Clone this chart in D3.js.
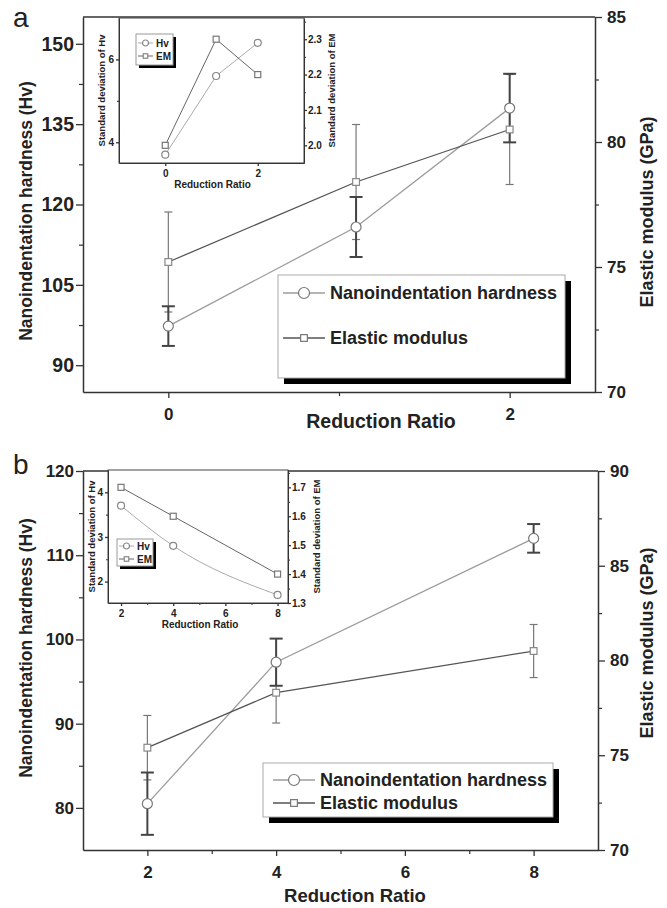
<!DOCTYPE html>
<html>
<head>
<meta charset="utf-8">
<script src="https://cdn.jsdelivr.net/npm/d3@7"></script>
<style>
  body { margin: 0; background: #fff; }
  text { font-family: "Liberation Sans", Arial, sans-serif; font-weight: bold; fill: #222; }
</style>
</head>
<body>
<svg id="chart" width="667" height="908"></svg>
<script>
// panel a
const ratioA = [0, 1.1, 2]
const hvA = [97.3, 115.8, 138.0]
const hvSdA = [3.7, 5.6, 6.4]
const emA = [75.2, 78.4, 80.5]
const emSdA = [2.0, 2.3, 2.2]
const xTicksA = [0, 2]
const yTicksA = [90, 105, 120, 135, 150]
const y2TicksA = [70, 75, 80, 85]
const insetXTicksA = [0, 2]
const insetYTicksA = [4, 6]
const insetY2TicksA = [2.0, 2.1, 2.2, 2.3]

// panel b
const ratioB = [2, 4, 8]
const hvB = [80.5, 97.3, 112.0]
const hvSdB = [3.7, 2.8, 1.7]
const emB = [75.4, 78.3, 80.5]
const emSdB = [1.7, 1.6, 1.4]
const xTicksB = [2, 4, 6, 8]
const yTicksB = [80, 90, 100, 110, 120]
const y2TicksB = [70, 75, 80, 85, 90]
const insetXTicksB = [2, 4, 6, 8]
const insetYTicksB = [2, 3, 4]
const insetY2TicksB = [1.3, 1.4, 1.5, 1.6, 1.7]

const legendLabels = ['Nanoindentation hardness', 'Elastic modulus']
const insetLegendLabels = ['Hv', 'EM']

const HV_LINE = '#9c9c9c'
const EM_LINE = '#555'
const fmtInt = d3.format('d')
const svg = d3.select('#chart')

function styleAxis (g, size) {
  g.select('.domain').attr('stroke', '#333').attr('stroke-width', 1.5)
  g.selectAll('.tick line').attr('stroke', '#333').attr('stroke-width', 1.3)
  g.selectAll('.tick text').style('font-size', size + 'px').attr('fill', '#222')
}

function minorTicks (g, axis, color) {
  g.call(axis.tickFormat('').tickSizeOuter(0))
    .call(s => { s.select('.domain').remove(); s.selectAll('line').attr('stroke', color).attr('stroke-width', 1.2) })
}

function marker (sel, kind, r, stroke) {
  if (kind === 'circle') {
    sel.append('circle').attr('r', r).attr('fill', '#fff').attr('stroke', stroke).attr('stroke-width', 1.2)
  } else {
    sel.append('rect').attr('x', -r * 0.75).attr('y', -r * 0.75).attr('width', r * 1.5).attr('height', r * 1.5)
      .attr('fill', '#fff').attr('stroke', stroke).attr('stroke-width', 1.2)
  }
}

function inset (c) {
  const g = svg.append('g')
  const x = d3.scaleLinear().domain(c.xDomain).range([c.left, c.right])
  const y = d3.scaleLinear().domain(c.yDomain).range([c.bottom, c.top])
  const y2 = d3.scaleLinear().domain(c.y2Domain).range([c.bottom, c.top])

  g.append('rect').attr('x', c.left).attr('y', c.top).attr('width', c.right - c.left).attr('height', c.bottom - c.top)
    .attr('fill', '#fff').attr('stroke', '#444').attr('stroke-width', 1)

  const ax = g.append('g').attr('transform', `translate(0,${c.bottom})`)
    .call(d3.axisBottom(x).tickValues(c.xTicks).tickFormat(fmtInt).tickSize(3).tickPadding(4).tickSizeOuter(0))
  styleAxis(ax, 10)
  if (c.xMinor) {
    minorTicks(g.append('g').attr('transform', `translate(0,${c.bottom})`), d3.axisBottom(x).tickValues(c.xMinor).tickSize(2), '#444')
  }
  const al = g.append('g').attr('transform', `translate(${c.left},0)`)
    .call(d3.axisLeft(y).tickValues(c.yTicks).tickFormat(fmtInt).tickSize(3).tickPadding(2).tickSizeOuter(0))
  styleAxis(al, 10)
  minorTicks(g.append('g').attr('transform', `translate(${c.left},0)`), d3.axisLeft(y).tickValues(c.yMinor).tickSize(2), '#444')
  const ar = g.append('g').attr('transform', `translate(${c.right},0)`)
    .call(d3.axisRight(y2).tickValues(c.y2Ticks).tickSize(3).tickPadding(1).tickFormat(d3.format('.1f')).tickSizeOuter(0))
  styleAxis(ar, 10)
  minorTicks(g.append('g').attr('transform', `translate(${c.right},0)`), d3.axisRight(y2).tickValues(c.y2Minor).tickSize(2), '#444')
  g.selectAll('.domain').attr('stroke-width', 1)

  const hvLine = d3.line().x((d, i) => x(c.ratio[i])).y(d => y(d)).curve(c.curve || d3.curveLinear)
  const emLine = d3.line().x((d, i) => x(c.ratio[i])).y(d => y2(d))
  g.append('path').attr('d', hvLine(c.hv)).attr('fill', 'none').attr('stroke', '#aaa').attr('stroke-width', 1)
  g.append('path').attr('d', emLine(c.em)).attr('fill', 'none').attr('stroke', '#666').attr('stroke-width', 1)
  c.hv.forEach((d, i) => marker(g.append('g').attr('transform', `translate(${x(c.ratio[i])},${y(d)})`), 'circle', 3.5, '#888'))
  c.em.forEach((d, i) => marker(g.append('g').attr('transform', `translate(${x(c.ratio[i])},${y2(d)})`), 'square', 4, '#777'))

  g.append('text').attr('x', (c.left + c.right) / 2 + c.xTitleDx).attr('y', c.bottom + 25)
    .attr('text-anchor', 'middle').style('font-size', '10px').text('Reduction Ratio')
  g.append('text').attr('transform', `translate(${c.leftTitleX},${(c.top + c.bottom) / 2}) rotate(-90)`)
    .attr('text-anchor', 'middle').attr('dominant-baseline', 'central').style('font-size', '9.5px').text('Standard deviation of Hv')
  g.append('text').attr('transform', `translate(${c.rightTitleX},${(c.top + c.bottom) / 2}) rotate(-90)`)
    .attr('text-anchor', 'middle').attr('dominant-baseline', 'central').style('font-size', '9.5px').text('Standard deviation of EM')

  // small legend
  const L = c.legend
  g.append('rect').attr('x', L.x + 3).attr('y', L.y + 3).attr('width', L.w).attr('height', L.h).attr('fill', '#000')
  g.append('rect').attr('x', L.x).attr('y', L.y).attr('width', L.w).attr('height', L.h).attr('fill', '#fff').attr('stroke', '#999')
  insetLegendLabels.forEach((lab, i) => {
    const yy = L.y + L.rows[i]
    g.append('line').attr('x1', L.x + 2).attr('x2', L.x + 17).attr('y1', yy).attr('y2', yy)
      .attr('stroke', i ? '#666' : '#aaa')
    marker(g.append('g').attr('transform', `translate(${L.x + 9.5},${yy})`), i ? 'square' : 'circle', 3, '#888')
    g.append('text').attr('x', L.x + 20).attr('y', yy).attr('dominant-baseline', 'central')
      .style('font-size', '10px').text(lab)
  })
}

function panel (c) {
  const g = svg.append('g')
  const x = d3.scaleLinear().domain(c.xDomain).range([c.left, c.right])
  const y = d3.scaleLinear().domain(c.yDomain).range([c.bottom, c.top])
  const y2 = d3.scaleLinear().domain(c.y2Domain).range([c.bottom, c.top])

  // top frame line
  g.append('line').attr('x1', c.left).attr('x2', c.right).attr('y1', c.top).attr('y2', c.top)
    .attr('stroke', '#333').attr('stroke-width', 1.5)

  const ax = g.append('g').attr('transform', `translate(0,${c.bottom})`)
    .call(d3.axisBottom(x).tickValues(c.xTicks).tickFormat(fmtInt).tickSize(6).tickPadding(10).tickSizeOuter(0))
  styleAxis(ax, 17)
  minorTicks(g.append('g').attr('transform', `translate(0,${c.bottom})`), d3.axisBottom(x).tickValues(c.xMinor).tickSize(4), '#333')

  const al = g.append('g').attr('transform', `translate(${c.left},0)`)
    .call(d3.axisLeft(y).tickValues(c.yTicks).tickFormat(fmtInt).tickSize(7).tickPadding(2).tickSizeOuter(0))
  styleAxis(al, c.leftFont)
  minorTicks(g.append('g').attr('transform', `translate(${c.left},0)`), d3.axisLeft(y).tickValues(c.yMinor).tickSize(4), '#333')

  const ar = g.append('g').attr('transform', `translate(${c.right},0)`)
    .call(d3.axisRight(y2).tickValues(c.y2Ticks).tickFormat(fmtInt).tickSize(7).tickPadding(5).tickSizeOuter(0))
  styleAxis(ar, 17)
  minorTicks(g.append('g').attr('transform', `translate(${c.right},0)`), d3.axisRight(y2).tickValues(c.y2Minor).tickSize(4), '#333')

  // lines
  const hvLine = d3.line().x((d, i) => x(c.ratio[i])).y(d => y(d))
  const emLine = d3.line().x((d, i) => x(c.ratio[i])).y(d => y2(d))
  g.append('path').attr('d', hvLine(c.hv)).attr('fill', 'none').attr('stroke', HV_LINE).attr('stroke-width', 1.3)
  g.append('path').attr('d', emLine(c.em)).attr('fill', 'none').attr('stroke', EM_LINE).attr('stroke-width', 1.3)

  // error bars
  function errBar (cx, yTop, yBot, cap, color, w) {
    g.append('line').attr('x1', cx).attr('x2', cx).attr('y1', yTop).attr('y2', yBot).attr('stroke', color).attr('stroke-width', w)
    g.append('line').attr('x1', cx - cap).attr('x2', cx + cap).attr('y1', yTop).attr('y2', yTop).attr('stroke', color).attr('stroke-width', w)
    g.append('line').attr('x1', cx - cap).attr('x2', cx + cap).attr('y1', yBot).attr('y2', yBot).attr('stroke', color).attr('stroke-width', w)
  }
  c.em.forEach((d, i) => errBar(x(c.ratio[i]), y2(d + c.emSd[i]), y2(d - c.emSd[i]), 4, '#777', 1.2))
  c.hv.forEach((d, i) => errBar(x(c.ratio[i]), y(d + c.hvSd[i]), y(d - c.hvSd[i]), 6.5, '#444', 2))

  c.hv.forEach((d, i) => marker(g.append('g').attr('transform', `translate(${x(c.ratio[i])},${y(d)})`), 'circle', 5, '#777'))
  c.em.forEach((d, i) => marker(g.append('g').attr('transform', `translate(${x(c.ratio[i])},${y2(d)})`), 'square', 4.5, '#888'))

  // titles
  g.append('text').attr('x', c.panelX).attr('y', c.panelY).style('font-size', '28px').style('font-weight', 'normal').text(c.name)
  g.append('text').attr('x', c.xTitleX).attr('y', c.xTitleY).attr('text-anchor', 'middle')
    .style('font-size', c.xTitleFont + 'px').text('Reduction Ratio')
  g.append('text').attr('transform', `translate(26,${c.yTitleY}) rotate(-90)`).attr('text-anchor', 'middle')
    .attr('dominant-baseline', 'central').style('font-size', '17.5px').text('Nanoindentation hardness (Hv)')
  g.append('text').attr('transform', `translate(647,${c.y2TitleY}) rotate(-90)`).attr('text-anchor', 'middle')
    .attr('dominant-baseline', 'central').style('font-size', '18px').text('Elastic modulus (GPa)')

  // legend
  const L = c.legend
  g.append('rect').attr('x', L.x + 6).attr('y', L.y + 6).attr('width', L.w).attr('height', L.h).attr('fill', '#000')
  g.append('rect').attr('x', L.x).attr('y', L.y).attr('width', L.w).attr('height', L.h).attr('fill', '#fff').attr('stroke', '#aaa')
  legendLabels.forEach((lab, i) => {
    const yy = L.y + L.rows[i]
    g.append('line').attr('x1', L.x + L.sx).attr('x2', L.x + L.sx + 42).attr('y1', yy).attr('y2', yy)
      .attr('stroke', i ? EM_LINE : HV_LINE).attr('stroke-width', 1.3)
    marker(g.append('g').attr('transform', `translate(${L.x + L.sx + 21},${yy})`), i ? 'square' : 'circle', i ? 4.5 : 5.5, '#777')
    g.append('text').attr('x', L.x + L.sx + 47).attr('y', yy).attr('dominant-baseline', 'central')
      .style('font-size', '18px').text(lab)
  })

  inset(c.inset)
}

panel({
  name: 'a', panelX: 13, panelY: 27,
  left: 83, right: 595, top: 17, bottom: 392,
  xDomain: [-0.5, 2.5], yDomain: [85, 155], y2Domain: [70, 85],
  xTicks: xTicksA, xMinor: [1], yTicks: yTicksA, yMinor: [97.5, 112.5, 127.5, 142.5],
  y2Ticks: y2TicksA, y2Minor: [72.5, 77.5, 82.5], leftFont: 19.5,
  ratio: ratioA, hv: hvA, hvSd: hvSdA, em: emA, emSd: emSdA,
  xTitleX: 381, xTitleY: 428, xTitleFont: 19.5, yTitleY: 211, y2TitleY: 212,
  legend: { x: 278, y: 275, w: 287, h: 103, sx: 5, rows: [18, 63] },
  inset: {
    left: 119, right: 304, top: 18, bottom: 163,
    xDomain: [-1, 3], yDomain: [3.5, 7.0], y2Domain: [1.95, 2.36],
    xTicks: insetXTicksA, yTicks: insetYTicksA, yMinor: [5],
    y2Ticks: insetY2TicksA, y2Minor: [2.05, 2.15, 2.25, 2.35],
    ratio: ratioA, hv: hvSdA, em: emSdA, xTitleDx: 1,
    leftTitleX: 101, rightTitleX: 331,
    legend: { x: 136, y: 34, w: 37, h: 31, rows: [9, 22] }
  }
})

panel({
  name: 'b', panelX: 13, panelY: 474,
  left: 83, right: 598, top: 471, bottom: 850,
  xDomain: [1, 9], yDomain: [75, 120], y2Domain: [70, 90],
  xTicks: xTicksB, xMinor: [3, 5, 7], yTicks: yTicksB, yMinor: [85, 95, 105, 115],
  y2Ticks: y2TicksB, y2Minor: [72.5, 77.5, 82.5, 87.5], leftFont: 17,
  ratio: ratioB, hv: hvB, hvSd: hvSdB, em: emB, emSd: emSdB,
  xTitleX: 355, xTitleY: 902, xTitleFont: 18.5, yTitleY: 648, y2TitleY: 643,
  legend: { x: 263, y: 763, w: 290, h: 54, sx: 10, rows: [17, 40] },
  inset: {
    left: 108, right: 288, top: 470, bottom: 603,
    xDomain: [1.5, 8.4], yDomain: [1.52, 4.5], y2Domain: [1.3, 1.76],
    xTicks: insetXTicksB, xMinor: [3, 5, 7], yTicks: insetYTicksB, yMinor: [2.5, 3.5],
    y2Ticks: insetY2TicksB, y2Minor: [1.35, 1.45, 1.55, 1.65, 1.75],
    ratio: ratioB, hv: hvSdB, em: emSdB, xTitleDx: 2, curve: d3.curveMonotoneX,
    leftTitleX: 91, rightTitleX: 316,
    legend: { x: 117, y: 539, w: 36, h: 27, rows: [7, 20] }
  }
})
</script>
</body>
</html>
